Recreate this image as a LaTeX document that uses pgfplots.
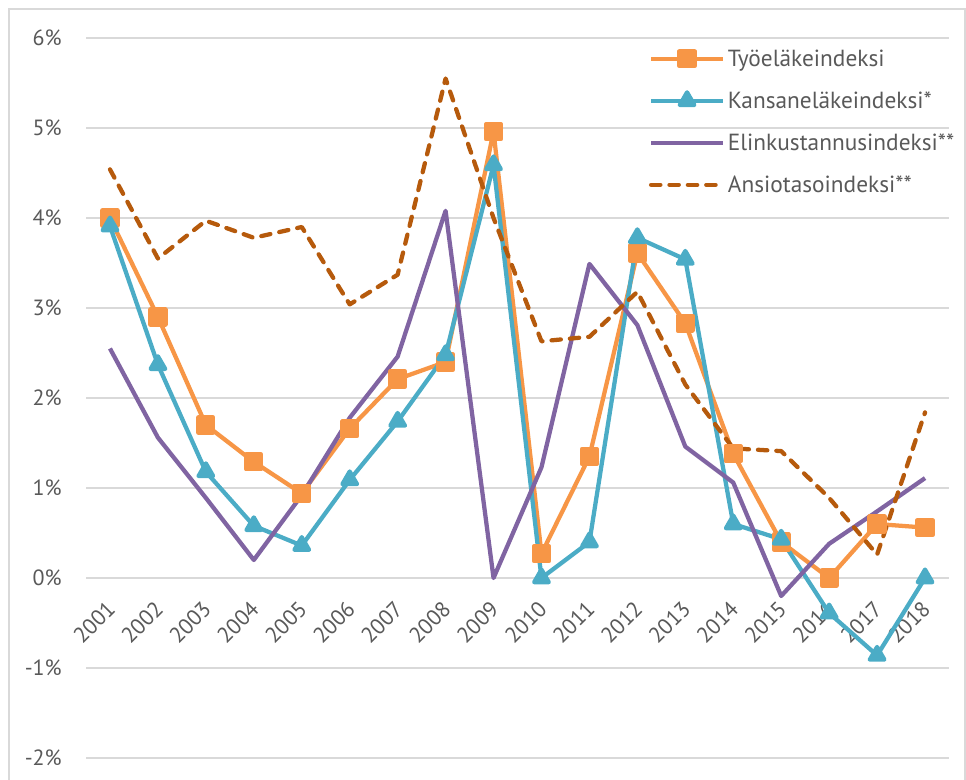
\documentclass[border=0pt]{standalone}
\usepackage{fontspec}
\setmainfont{PT Sans}
\usepackage{pgfplots}
\pgfplotsset{compat=1.18}
\definecolor{cOr}{HTML}{F79646}
\definecolor{cTe}{HTML}{4BACC6}
\definecolor{cPu}{HTML}{8064A2}
\definecolor{cBr}{HTML}{B65A0C}
\definecolor{cGrid}{HTML}{D9D9D9}
\definecolor{cTxt}{HTML}{595959}
\begin{document}
\begin{tikzpicture}
\useasboundingbox (-64.5pt,-16.5pt) rectangle (660pt,568.5pt);
\draw[cGrid, line width=1.2pt] (-57.75pt,-40pt) rectangle (659.25pt,561.75pt);
\begin{axis}[
  at={(0pt,0pt)}, anchor=south west,
  scale only axis, width=647.25pt, height=540pt,
  xmin=2000.5, xmax=2018.5, ymin=-2, ymax=6,
  xtick={2001,2002,2003,2004,2005,2006,2007,2008,2009,2010,2011,2012,2013,2014,2015,2016,2017,2018},
  xticklabels={2001,2002,2003,2004,2005,2006,2007,2008,2009,2010,2011,2012,2013,2014,2015,2016,2017,2018},
  ytick={-2,-1,0,1,2,3,4,5,6},
  yticklabels={-2\%,-1\%,0\%,1\%,2\%,3\%,4\%,5\%,6\%},
  axis line style={draw=none},
  major tick length=0pt,
  ymajorgrids, grid style={cGrid, line width=1.2pt},
  tick label style={font=\fontsize{16.5}{18}\selectfont, text=cTxt, inner sep=0pt},
  yticklabel style={xshift=-18pt},
  xticklabel style={yshift=114.75pt, xshift=1pt, rotate=45, anchor=east},
  legend style={at={(0.652,0.988)}, anchor=north west, draw=none, fill=none,
    font=\fontsize{17.5}{19}\selectfont, text=cTxt, row sep=13.5pt, inner sep=0pt,
    cells={anchor=west}},
  legend image code/.code={\draw[mark repeat=2,mark phase=2,#1] plot coordinates {(0pt,0pt) (27pt,0pt) (54pt,0pt)};},
  every axis plot/.append style={line width=3.2pt, line join=round},
]
\addplot[cOr, mark=square*, mark size=5.6pt, mark options={solid}] coordinates {
(2001,4.00) (2002,2.90) (2003,1.70) (2004,1.29) (2005,0.94) (2006,1.66) (2007,2.21) (2008,2.40) (2009,4.96)
(2010,0.27) (2011,1.35) (2012,3.61) (2013,2.83) (2014,1.38) (2015,0.40) (2016,0.00) (2017,0.60) (2018,0.56)};
\addlegendentry{Työeläkeindeksi}
\addplot[cTe, mark=triangle*, mark size=6.3pt, mark options={solid}] coordinates {
(2001,3.91) (2002,2.37) (2003,1.18) (2004,0.58) (2005,0.36) (2006,1.09) (2007,1.74) (2008,2.48) (2009,4.59)
(2010,0.00) (2011,0.40) (2012,3.78) (2013,3.54) (2014,0.60) (2015,0.43) (2016,-0.39) (2017,-0.86) (2018,0.00)};
\addlegendentry{Kansaneläkeindeksi*}
\addplot[cPu, mark=none] coordinates {
(2001,2.55) (2002,1.56) (2003,0.89) (2004,0.20) (2005,0.92) (2006,1.78) (2007,2.46) (2008,4.08) (2009,0.00)
(2010,1.23) (2011,3.49) (2012,2.81) (2013,1.46) (2014,1.06) (2015,-0.20) (2016,0.38) (2017,0.74) (2018,1.11)};
\addlegendentry{Elinkustannusindeksi**}
\addplot[cBr, mark=none, line cap=round, dash pattern=on 7pt off 6.8pt] coordinates {
(2001,4.54) (2002,3.55) (2003,3.97) (2004,3.78) (2005,3.90) (2006,3.04) (2007,3.37) (2008,5.55) (2009,4.00)
(2010,2.63) (2011,2.68) (2012,3.18) (2013,2.15) (2014,1.44) (2015,1.41) (2016,0.89) (2017,0.26) (2018,1.84)};
\addlegendentry{Ansiotasoindeksi**}
\end{axis}
\end{tikzpicture}
\end{document}
